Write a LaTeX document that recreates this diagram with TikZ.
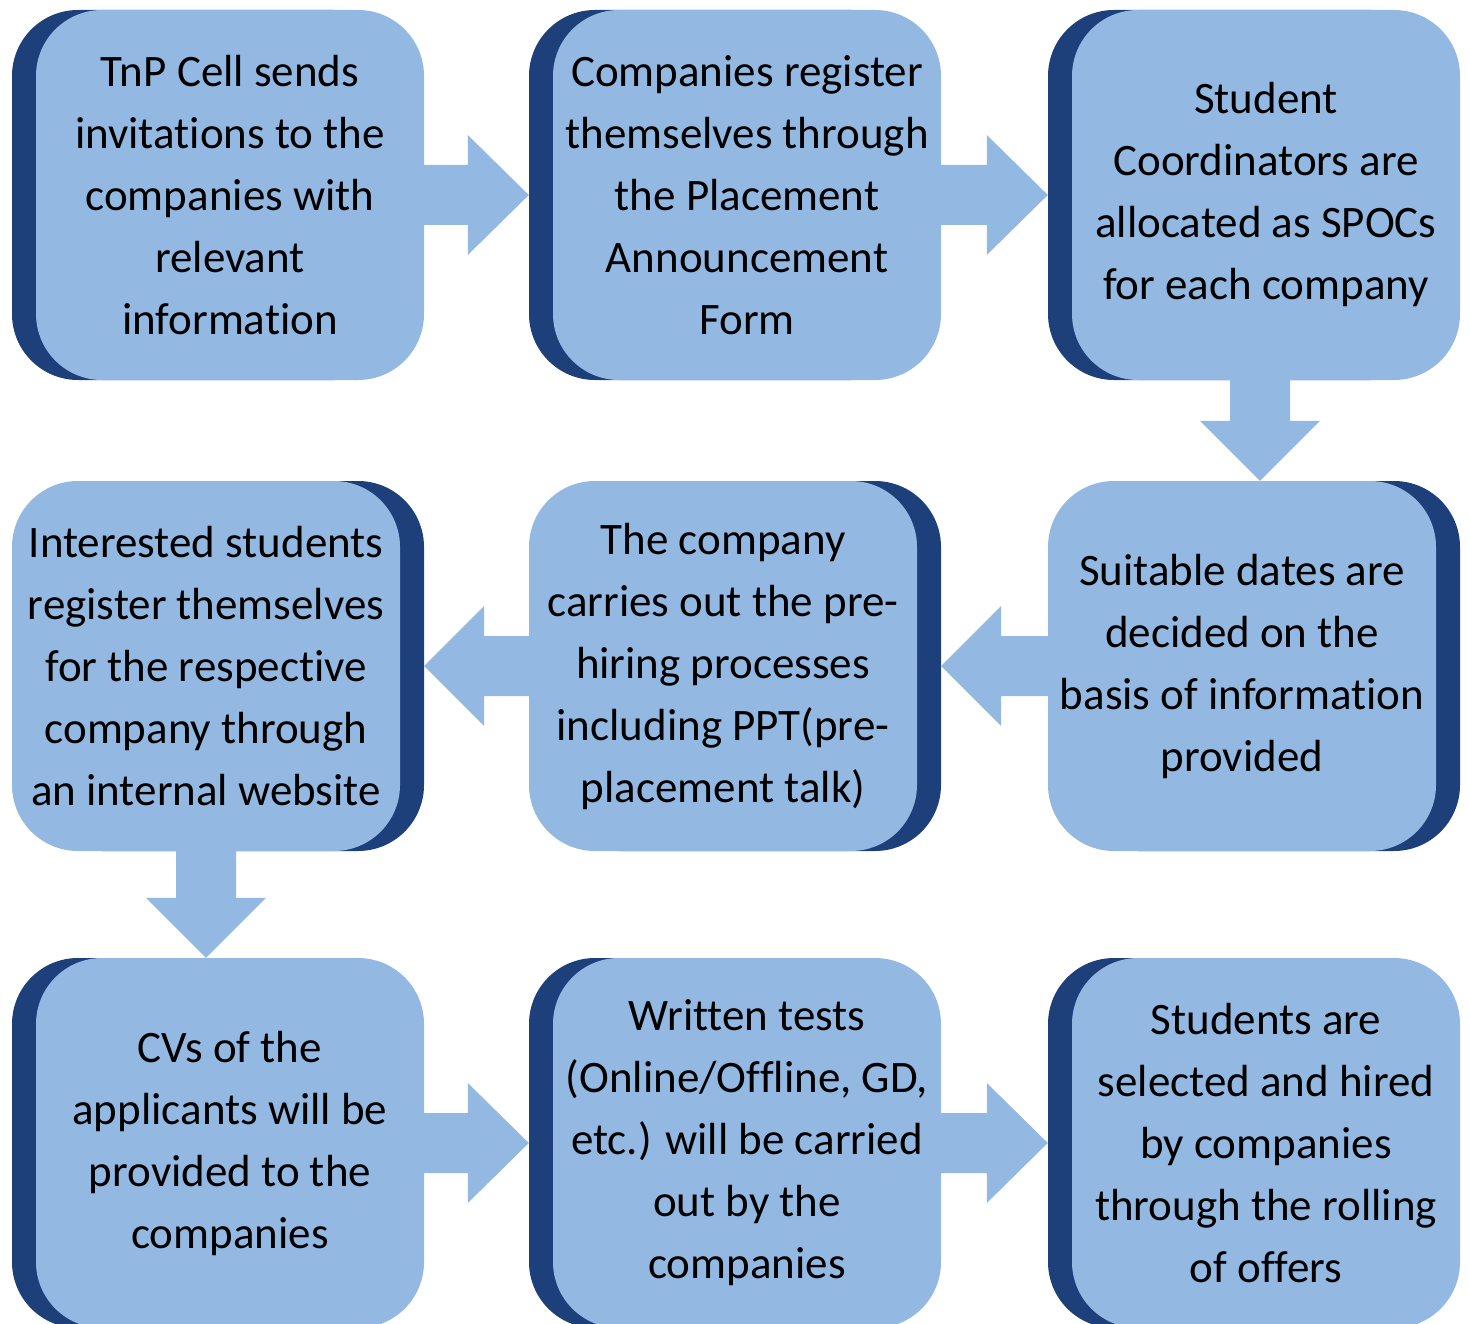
\documentclass[tikz,border=0pt]{standalone}
\usepackage{fontspec}
\setmainfont{Carlito}[Ligatures=NoCommon]
\usetikzlibrary{calc}
\definecolor{lightb}{RGB}{147,184,225}
\definecolor{darkb}{RGB}{29,63,122}
\tikzset{
  box/.style={fill=lightb, rounded corners=66pt, minimum width=388pt, minimum height=370pt,
    inner sep=0pt, align=center, font=\fontsize{45}{62}\selectfont, text=black},
  backbox/.style={fill=darkb, rounded corners=66pt, minimum width=388pt, minimum height=370pt,
    inner sep=0pt},
  arr/.style={fill=lightb, draw=none}
}
% right-pointing block arrow: #1 = start anchor (shaft start), #2 = tip
\newcommand\myRArrow[2]{%
  \fill[arr] ($(#1)+(-4,-30)$) -- ($(#2)+(-61,-30)$) -- ($(#2)+(-61,-60)$) -- (#2)
    -- ($(#2)+(-61,60)$) -- ($(#2)+(-61,30)$) -- ($(#1)+(-4,30)$) -- cycle;}
\newcommand\myLArrow[2]{%
  \fill[arr] ($(#1)+(4,-30)$) -- ($(#2)+(60,-30)$) -- ($(#2)+(60,-60)$) -- (#2)
    -- ($(#2)+(60,60)$) -- ($(#2)+(60,30)$) -- ($(#1)+(4,30)$) -- cycle;}
\newcommand\myDArrow[2]{%
  \fill[arr] ($(#1)+(-30,-4)$) -- ($(#2)+(-30,-60)$) -- ($(#2)+(-60,-60)$) -- (#2)
    -- ($(#2)+(60,-60)$) -- ($(#2)+(30,-60)$) -- ($(#1)+(30,-4)$) -- cycle;}
\begin{document}
\begin{tikzpicture}[x=1pt,y=-1pt]
\useasboundingbox (0,0) rectangle (1470,1324);
% row 1
\node[backbox] (s1) at (206,195) {};
\node[box] (b1) at (230,195) {TnP Cell sends\\invitations to the\\companies with\\relevant\\information};
\node[backbox] (s2) at (723,195) {};
\node[box] (b2) at (747,195) {Companies register\\themselves through\\the Placement\\Announcement\\Form};
\node[backbox] (s3) at (1242,195) {};
\node[box] (b3) at (1266,195) {Student\\Coordinators are\\allocated as SPOCs\\for each company};
% row 2
\node[backbox] (s4) at (230,666) {};
\node[box] (b4) at (206,666) {Interested students\\register themselves\\for the respective\\company through\\an internal website};
\node[backbox] (s5) at (747,666) {};
\node[box] (b5) at (723,666) {The company\\carries out the pre-\\hiring processes\\including PPT(pre-\\placement talk)};
\node[backbox] (s6) at (1266,666) {};
\node[box] (b6) at (1242,666) {Suitable dates are\\decided on the\\basis of information\\provided};
% row 3
\node[backbox] (s7) at (206,1143) {};
\node[box] (b7) at (230,1143) {CVs of the\\applicants will be\\provided to the\\companies};
\node[backbox] (s8) at (723,1143) {};
\node[box] (b8) at (747,1143) {Written tests\\(Online/Offline, GD,\\etc.) will be carried\\out by the\\companies};
\node[backbox] (s9) at (1242,1143) {};
\node[box] (b9) at (1266,1143) {Students are\\selected and hired\\by companies\\through the rolling\\of offers};
% arrows
\myRArrow{b1.east}{s2.west}
\myRArrow{b2.east}{s3.west}
\coordinate (d1s) at ($(b3.south)+(-6,0)$);
\coordinate (d1t) at (d1s |- b6.north);
\myDArrow{d1s}{d1t}
\myLArrow{b6.west}{s5.east}
\myLArrow{b5.west}{s4.east}
\coordinate (d2t) at (b4.south |- b7.north);
\myDArrow{b4.south}{d2t}
\myRArrow{b7.east}{s8.west}
\myRArrow{b8.east}{s9.west}
\end{tikzpicture}
\end{document}
